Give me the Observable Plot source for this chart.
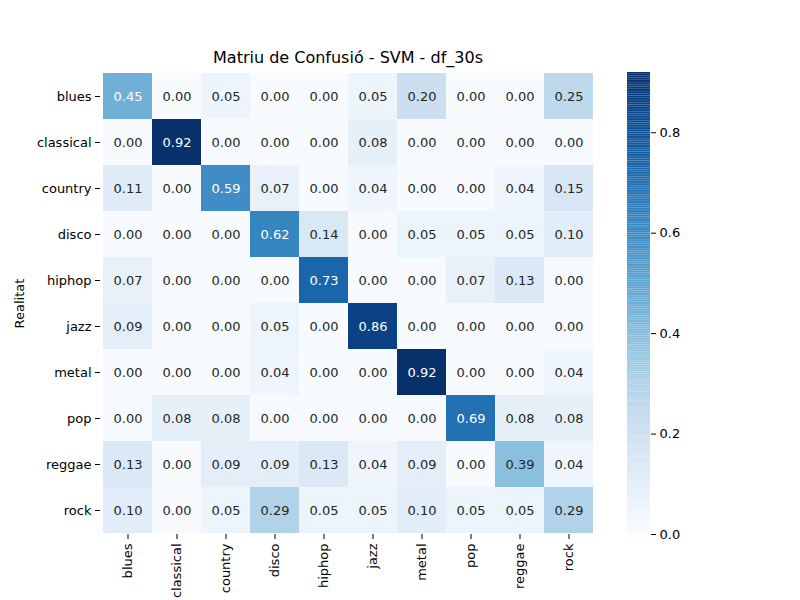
<!DOCTYPE html>
<html><head><meta charset="utf-8">
<script src="https://cdn.jsdelivr.net/npm/d3@7"></script>
<script src="https://cdn.jsdelivr.net/npm/@observablehq/plot@0.6"></script>
<style>
body{margin:0;background:#fff;font-family:"DejaVu Sans",sans-serif}
#wrap{position:relative;width:800px;height:600px;overflow:hidden}
#wrap svg{position:absolute;left:0;top:0}
#title{position:absolute;top:48px;left:100px;width:496px;text-align:center;font-size:16px;color:#000}
</style></head><body>
<div id="wrap"><div id="title">Matriu de Confusió - SVM - df_30s</div></div>
<script>
const genres = ["blues","classical","country","disco","hiphop","jazz","metal","pop","reggae","rock"];
const matrix = [
  [0.45,0.00,0.05,0.00,0.00,0.05,0.20,0.00,0.00,0.25],
  [0.00,0.92,0.00,0.00,0.00,0.08,0.00,0.00,0.00,0.00],
  [0.11,0.00,0.59,0.07,0.00,0.04,0.00,0.00,0.04,0.15],
  [0.00,0.00,0.00,0.62,0.14,0.00,0.05,0.05,0.05,0.10],
  [0.07,0.00,0.00,0.00,0.73,0.00,0.00,0.07,0.13,0.00],
  [0.09,0.00,0.00,0.05,0.00,0.86,0.00,0.00,0.00,0.00],
  [0.00,0.00,0.00,0.04,0.00,0.00,0.92,0.00,0.00,0.04],
  [0.00,0.08,0.08,0.00,0.00,0.00,0.00,0.69,0.08,0.08],
  [0.13,0.00,0.09,0.09,0.13,0.04,0.09,0.00,0.39,0.04],
  [0.10,0.00,0.05,0.29,0.05,0.05,0.10,0.05,0.05,0.29]
];
const cbTicks = [0,0.2,0.4,0.6,0.8];
const vmax = 0.92;

const cells = [];
matrix.forEach((row,i)=>row.forEach((v,j)=>cells.push({real:genres[i],pred:genres[j],v})));

const main = Plot.plot({
  width:800,height:600,
  marginLeft:100,marginRight:204,marginTop:72,marginBottom:66,
  style:{fontFamily:"DejaVu Sans",fontSize:"13px",background:"transparent"},
  x:{domain:genres,padding:0,label:null,tickRotate:-90,tickSize:5},
  y:{domain:genres,padding:0,label:"Realitat",labelAnchor:"center",labelOffset:86,tickSize:5},
  color:{type:"linear",scheme:"blues",domain:[0,vmax]},
  marks:[
    Plot.cell(cells,{x:"pred",y:"real",fill:"v",inset:0}),
    Plot.text(cells,{x:"pred",y:"real",text:d=>d.v.toFixed(2),
      fill:d=>d.v>0.42?"white":"#262626",fontSize:13})
  ]
});
document.getElementById("wrap").appendChild(main);

const steps = d3.range(0,256).map(k=>({a:k/256*vmax,b:(k+1)/256*vmax}));
const bar = Plot.plot({
  width:800,height:600,
  marginLeft:627,marginRight:150,marginTop:72,marginBottom:66,
  style:{fontFamily:"DejaVu Sans",fontSize:"13px",background:"transparent"},
  x:{axis:null},
  y:{domain:[0,vmax],ticks:cbTicks,tickFormat:d3.format(".1f"),axis:"right",label:null,tickSize:5},
  color:{type:"linear",scheme:"blues",domain:[0,vmax]},
  marks:[
    Plot.rectY(steps,{x1:0,x2:1,y1:"a",y2:"b",fill:"a"})
  ]
});
document.getElementById("wrap").appendChild(bar);
</script>
</body></html>
